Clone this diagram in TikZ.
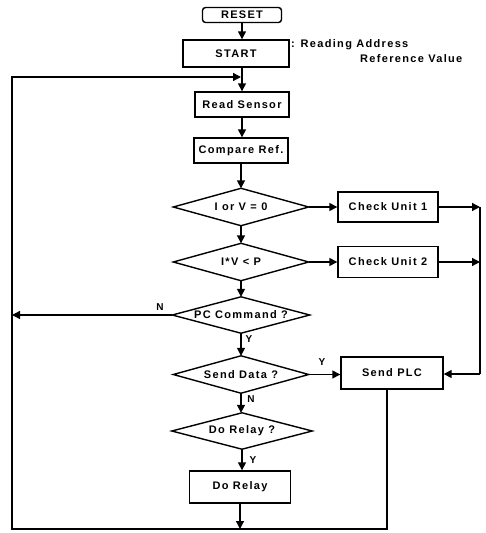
\documentclass[tikz,border=0pt]{standalone}
\usepackage{fontspec}
\setmainfont{Liberation Sans}[LetterSpace=12]
\usetikzlibrary{arrows.meta}
\tikzset{
  procbox/.style={rectangle, draw, line width=1.4pt, minimum width=94pt, minimum height=25pt, inner sep=0pt},
  decision/.style={rectangle, minimum width=135pt, minimum height=37pt, inner sep=0pt},
  startstop/.style={rectangle, rounded corners=3pt, draw, line width=1.4pt, minimum width=79pt, minimum height=15pt, inner sep=0pt},
  flow/.style={line width=1.4pt, -{Triangle[length=8pt,width=8pt]}},
  plainline/.style={line width=1.4pt},
  yn/.style={font=\fontsize{10}{12}\selectfont\bfseries, inner sep=1pt}
}

\begin{document}
\begin{tikzpicture}[x=1pt, y=-1pt, font=\fontsize{11}{13}\selectfont\bfseries]
  \useasboundingbox (0,0) rectangle (486,533);

  % main column
  \node[startstop] (reset) at (242,15) {RESET};
  \node[procbox, minimum width=106pt, minimum height=27pt] (start) at (236,53.5) {START};
  \node[procbox] (sensor) at (242,104.5) {Read Sensor};
  \node[procbox] (compare) at (241,150.5) {Compare Ref.};
  \node[decision] (dec1) at (241,207) {I or V = 0};
  \node[decision] (dec2) at (241,262) {I*V < P};
  \node[decision, minimum width=137pt, minimum height=36pt] (pccmd) at (241,315) {PC Command ?};
  \node[decision] (senddata) at (241,374.5) {Send Data ?};
  \node[decision, minimum width=140pt, minimum height=36pt] (relayq) at (242,431) {Do Relay ?};
  \node[procbox, minimum width=101pt, minimum height=32pt] (dorelay) at (240,487) {Do Relay};

  % right column
  \node[procbox, minimum width=100pt, minimum height=30pt] (check1) at (388,207) {Check Unit 1};
  \node[procbox, minimum width=100pt, minimum height=31pt] (check2) at (388,262) {Check Unit 2};
  \node[procbox, minimum width=102pt, minimum height=32pt] (sendplc) at (392,373) {Send PLC};

  % note
  \node[anchor=west, inner sep=0pt] (note1) at (291,45) {: Reading Address};
  \node[anchor=west, inner sep=0pt] (note2) at (360,59) {Reference Value};

  \foreach \n in {dec1, dec2, pccmd, senddata, relayq}
    \draw[plainline] (\n.west) -- (\n.north) -- (\n.east) -- (\n.south) -- cycle;

  % loop corners
  \coordinate (tl) at (12,77);
  \coordinate (tr) at (241,77);
  \coordinate (bl) at (12,529);
  \coordinate (br) at (387,529);
  \coordinate (rt) at (480,207);
  \coordinate (rb) at (480,374);

  \draw[flow] (reset.south) -- (reset.south |- start.north);
  \draw[flow] (start.south -| sensor.north) -- (sensor.north);
  \foreach \a/\b in {sensor/compare, compare/dec1, dec1/dec2, dec2/pccmd,
                     pccmd/senddata, senddata/relayq, relayq/dorelay}
    \draw[flow] (\a.south) -- (\a.south |- \b.north);

  \draw[flow] (check1.east) -- (check1.east -| rt);
  \draw[flow] (check2.east) -- (check2.east -| rt);
  \draw[flow] (dec1.east) -- (check1.west |- dec1.east);
  \draw[flow] (dec2.east) -- (check2.west |- dec2.east);
  \draw[plainline] (rt) -- (rb);
  \draw[flow] (rb) -- (sendplc.east |- rb);
  \draw[flow] (senddata.east) -- (sendplc.west |- senddata.east);

  \draw[flow] (pccmd.west) -- (pccmd.west -| tl);
  \draw[flow] (dorelay.south) -- (dorelay.south |- bl);
  \draw[flow, line join=miter] (sendplc.south -| br) -- (br) -- (bl) -- (tl) -- (tr);

  % branch labels
  \node[yn] (pcno) at (160,307) {N};
  \node[yn] (pcyes) at (249,339) {Y};
  \node[yn] (sdyes) at (322,362) {Y};
  \node[yn] (sdno) at (251,399) {N};
  \node[yn] (relyes) at (253,460) {Y};
\end{tikzpicture}
\end{document}
